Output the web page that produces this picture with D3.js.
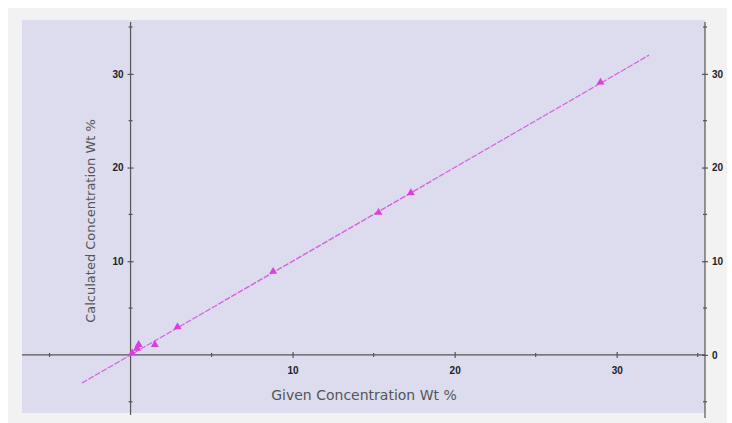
<!DOCTYPE html>
<html>
<head>
<meta charset="utf-8">
<script src="https://cdn.jsdelivr.net/npm/d3@7"></script>
<style>
  html, body { margin: 0; padding: 0; background: #ffffff; }
  svg { display: block; }
</style>
</head>
<body>
<svg id="chart" width="732" height="423"></svg>
<script>
// ---- data ----
const givenConc = [0.1, 0.4, 0.5, 1.5, 2.9, 8.8, 15.3, 17.3, 29.0];
const calcConc  = [0.2, 0.7, 1.1, 1.1, 3.0, 8.9, 15.2, 17.3, 29.1];
const fitLineX  = [-3, 32];
const fitLineY  = [-3, 32];
const majorTicks = [0, 10, 20, 30];
const minorTicks = [-5, 5, 15, 25, 35];
const xTickLabels = ["10", "20", "30"];
const yLeftTickLabels = ["10", "20", "30"];
const yRightTickLabels = ["0", "10", "20", "30"];
const xTitle = "Given Concentration Wt %";
const yTitle = "Calculated Concentration Wt %";

// ---- layout ----
const svg = d3.select("#chart");
const plot = { left: 22, right: 705, top: 20, bottom: 413 };
const x = d3.scaleLinear().domain([-6.7, 35.45]).range([plot.left, plot.right]);
const y = d3.scaleLinear().domain([-6.2, 35.75]).range([plot.bottom, plot.top]);

// outer gray frame
svg.append("rect").attr("x", 8).attr("y", 8).attr("width", 719).attr("height", 415)
  .attr("fill", "#f2f2f2");
// plot area
svg.append("rect").attr("x", plot.left).attr("y", plot.top)
  .attr("width", plot.right - plot.left).attr("height", plot.bottom - plot.top)
  .attr("fill", "#dcdcee");

const axisColor = "#555";
const tickFont = "'Liberation Sans', Arial, sans-serif";
const titleFont = "'DejaVu Sans', sans-serif";

function styleAxis(g) {
  g.select(".domain").attr("stroke", axisColor).attr("stroke-width", 1.2);
  g.selectAll(".tick line").attr("stroke", axisColor).attr("stroke-width", 1.2);
  g.selectAll(".tick text").attr("fill", "#222")
    .attr("font-family", tickFont).attr("font-size", 10).attr("font-weight", "bold");
}

// x axis along y=0 (ticks crossing)
const xAxisG = svg.append("g").attr("transform", `translate(0,${y(0)})`);
xAxisG.call(d3.axisBottom(x).tickValues(majorTicks.filter(d => d > 0))
  .tickFormat((d, i) => xTickLabels[i]).tickSizeInner(3).tickSizeOuter(0).tickPadding(9));
xAxisG.select(".domain").attr("d", `M${plot.left},0H${plot.right}`);
xAxisG.selectAll(".tick line").attr("y1", -3).attr("y2", 3);
styleAxis(xAxisG);
xAxisG.selectAll(".minor").data(minorTicks).enter().append("line")
  .attr("x1", d => x(d)).attr("x2", d => x(d)).attr("y1", -2).attr("y2", 2)
  .attr("stroke", axisColor).attr("stroke-width", 1.2);

// left y axis along x=0
const yLeftG = svg.append("g").attr("transform", `translate(${x(0)},0)`);
yLeftG.call(d3.axisLeft(y).tickValues(majorTicks.filter(d => d > 0))
  .tickFormat((d, i) => yLeftTickLabels[i]).tickSizeInner(3).tickSizeOuter(0).tickPadding(4));
yLeftG.select(".domain").attr("d", `M0,${plot.top + 2}V${plot.bottom + 2}`);
yLeftG.selectAll(".tick line").attr("x1", -3).attr("x2", 3);
styleAxis(yLeftG);
yLeftG.selectAll(".minor").data(minorTicks).enter().append("line")
  .attr("y1", d => y(d)).attr("y2", d => y(d)).attr("x1", -2).attr("x2", 2)
  .attr("stroke", axisColor).attr("stroke-width", 1.2);

// right y axis at plot right edge
const yRightG = svg.append("g").attr("transform", `translate(${plot.right},0)`);
yRightG.call(d3.axisRight(y).tickValues(majorTicks)
  .tickFormat((d, i) => yRightTickLabels[i]).tickSizeInner(3).tickSizeOuter(0).tickPadding(4));
yRightG.select(".domain").attr("d", `M0,${plot.top + 2}V${plot.bottom + 5}`);
yRightG.selectAll(".tick line").attr("x1", -3).attr("x2", 3);
styleAxis(yRightG);
yRightG.selectAll(".minor").data(minorTicks).enter().append("line")
  .attr("y1", d => y(d)).attr("y2", d => y(d)).attr("x1", -2).attr("x2", 2)
  .attr("stroke", axisColor).attr("stroke-width", 1.2);

// axis titles
svg.append("text").attr("x", 364).attr("y", 400).attr("text-anchor", "middle")
  .attr("font-family", titleFont).attr("font-size", 14).attr("fill", "#555")
  .text(xTitle);
svg.append("text").attr("transform", `translate(95,221) rotate(-90)`).attr("text-anchor", "middle")
  .attr("font-family", titleFont).attr("font-size", 13).attr("fill", "#555")
  .text(yTitle);

// fit line
const lineData = fitLineX.map((d, i) => [d, fitLineY[i]]);
svg.append("path").datum(lineData)
  .attr("d", d3.line().x(d => x(d[0])).y(d => y(d[1])))
  .attr("fill", "none").attr("stroke", "#d85ee0").attr("stroke-width", 1.3)
  .attr("stroke-dasharray", "6,1.5");

// triangle markers
const tri = d3.symbol().type(d3.symbolTriangle).size(28);
svg.selectAll(".pt").data(givenConc.map((d, i) => [d, calcConc[i]])).enter()
  .append("path").attr("class", "pt")
  .attr("transform", d => `translate(${x(d[0])},${y(d[1])})`)
  .attr("d", tri).attr("fill", "#dd3ddd");
</script>
</body>
</html>
